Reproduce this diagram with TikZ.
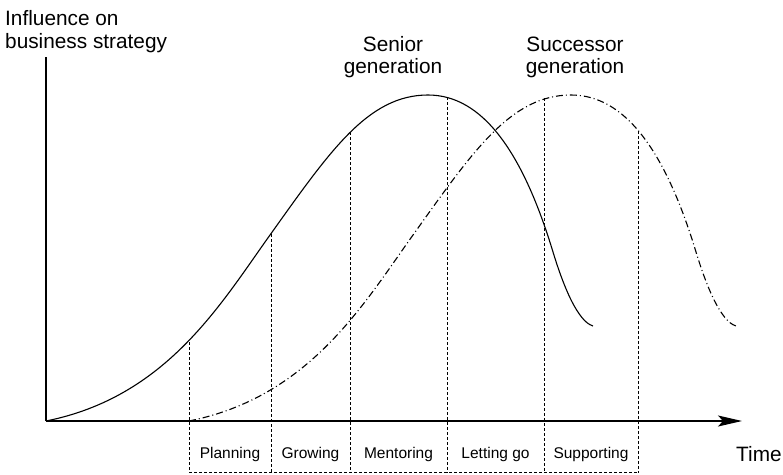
\documentclass[tikz,border=0pt]{standalone}
\usepackage{fontspec}
\setmainfont{Liberation Sans}
\usetikzlibrary{arrows.meta}
\begin{document}
\begin{tikzpicture}[x=1pt,y=-1pt,
  axisline/.style={line width=1.2pt},
  seniorcurve/.style={line width=1.1pt},
  successorcurve/.style={line width=1.1pt, dash pattern=on 7pt off 3pt on 1pt off 3pt},
  phaseline/.style={line width=0.9pt, dash pattern=on 3pt off 2pt},
  biglabel/.style={font=\fontsize{20.8}{23}\selectfont, inner sep=0pt},
  phaselabel/.style={font=\fontsize{15.5}{18}\selectfont, inner sep=0pt, anchor=base}]
\useasboundingbox (0,0) rectangle (783,474);
% axes
\coordinate (origin) at (46,421);
\coordinate (ytop) at (46,57);
\coordinate (xtip) at (742,421);
\draw[axisline] (ytop) -- (origin);
\draw[axisline,-{Stealth[length=24pt,width=11pt,inset=5pt]}] (origin) -- (xtip);
% curves
\def\lifecurve{(46,421) .. controls (166,397) and (220,305) .. (270,235)
  .. controls (330,151) and (368,95) .. (428,95)
  .. controls (483,95) and (523,153) .. (553,252)
  .. controls (571,311) and (585,323.6) .. (593,326)}
\draw[seniorcurve] \lifecurve;
\begin{scope}[xshift=143pt]
\draw[successorcurve] \lifecurve;
\end{scope}
% phase lines
\coordinate (t1) at (189,342); \coordinate (b1) at (189,472.5);
\coordinate (t2) at (271,234); \coordinate (b2) at (271,472.5);
\coordinate (t3) at (350,132); \coordinate (b3) at (350,472.5);
\coordinate (t4) at (447,97);  \coordinate (b4) at (447,472.5);
\coordinate (t5) at (544,98);  \coordinate (b5) at (544,472.5);
\coordinate (t6) at (638,131); \coordinate (b6) at (638,472.5);
\foreach \i in {1,...,6} {\draw[phaseline] (t\i) -- (b\i);}
\draw[phaseline] (b1) -- (b6);
% phase labels
\node[phaselabel] (planning) at (230,458) {Planning};
\node[phaselabel] (growing) at (310.5,458) {Growing};
\node[phaselabel] (mentoring) at (398.5,458) {Mentoring};
\node[phaselabel] (lettinggo) at (495.5,458) {Letting go};
\node[phaselabel] (supporting) at (591,458) {Supporting};
% labels
\node[biglabel, anchor=base west] (influence1) at (5,25) {Influence on};
\node[biglabel, anchor=base west] (influence2) at (5,48.5) {business strategy};
\node[biglabel, anchor=base] (senior1) at (393,51) {Senior};
\node[biglabel, anchor=base] (senior2) at (393,73.5) {generation};
\node[biglabel, anchor=base] (succ1) at (575,51) {Successor};
\node[biglabel, anchor=base] (succ2) at (575,73.5) {generation};
\node[biglabel, anchor=base west] (time) at (736,461) {Time};
\end{tikzpicture}
\end{document}
